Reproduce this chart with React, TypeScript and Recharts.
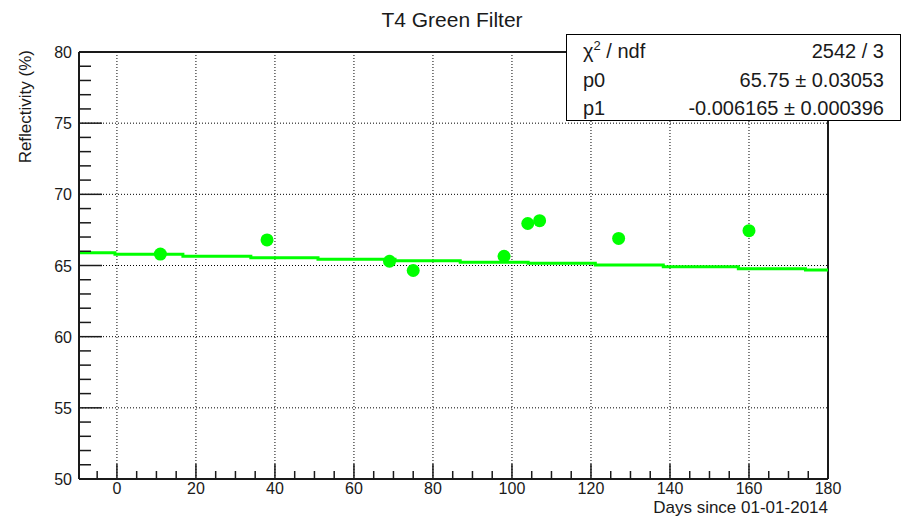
import { ComposedChart, XAxis, YAxis, Line, Scatter, ReferenceLine } from 'recharts';

// measured reflectivity of the T4 green filter
const days = [11, 38, 69, 75, 98, 104, 107, 127, 160];
const reflectivity = [65.8, 66.8, 65.3, 64.65, 65.65, 67.95, 68.15, 66.9, 67.45];

// linear fit as drawn (stepped segments)
const fitDays = [-9.6, -0.5, 16.7, 33.9, 50.9, 70.4, 86.9, 104.1, 121.1, 138.3, 157.3, 174.3, 180];
const fitValues = [65.9, 65.79, 65.65, 65.55, 65.44, 65.34, 65.23, 65.16, 65.04, 64.92, 64.78, 64.68, 64.68];

const xMajor = [0, 20, 40, 60, 80, 100, 120, 140, 160, 180];
const yMajor = [50, 55, 60, 65, 70, 75, 80];
const xTicks = Array.from({ length: 38 }, (_, i) => -5 + i * 5);
const yTicks = Array.from({ length: 31 }, (_, i) => 50 + i);

const statNames = ['p0', 'p1'];
const statValues = ['2542 / 3', '65.75 \u00b1 0.03053', '-0.006165 \u00b1 0.000396'];

const points = days.map((d, i) => ({ x: d, y: reflectivity[i] }));
const fit = fitDays.map((d, i) => ({ x: d, y: fitValues[i] }));

const W = 907;
const H = 518;
const LEFT = 79;
const RIGHT = 828;
const TOP = 52;
const BOTTOM = 479;
const FONT = '"Liberation Sans", Arial, Helvetica, sans-serif';
const INK = '#1a1a1a';

function XTick(props: any) {
  const { x, payload } = props;
  const major = payload.value % 20 === 0;
  return (
    <g>
      <line x1={x} x2={x} y1={BOTTOM} y2={BOTTOM - (major ? 15 : 8)} stroke={INK} strokeWidth={1.5} />
      {major && (
        <text x={x} y={494} textAnchor="middle" fontSize={16} fill={INK} fontFamily={FONT}>
          {payload.value}
        </text>
      )}
    </g>
  );
}

function YTick(props: any) {
  const { y, payload } = props;
  const major = payload.value % 5 === 0;
  return (
    <g>
      <line x1={LEFT} x2={LEFT + (major ? 23 : 12)} y1={y} y2={y} stroke={INK} strokeWidth={1.5} />
      {major && (
        <text x={72} y={y + 6} textAnchor="end" fontSize={16} fill={INK} fontFamily={FONT}>
          {payload.value}
        </text>
      )}
    </g>
  );
}

const dot = (p: any) => <circle cx={p.cx} cy={p.cy} r={6.5} fill="#00ff00" />;

export default function App() {
  return (
    <div style={{ position: 'absolute', left: 0, top: 0, width: W, height: H, background: '#fff' }}>
      <ComposedChart width={W} height={H} margin={{ top: TOP, right: W - RIGHT, bottom: 0, left: 0 }}>
        <XAxis
          type="number"
          dataKey="x"
          domain={[-9.6, 180]}
          ticks={xTicks}
          interval={0}
          height={H - BOTTOM}
          tickLine={false}
          axisLine={{ stroke: INK, strokeWidth: 2 }}
          tick={<XTick />}
          allowDataOverflow
        />
        <YAxis
          type="number"
          domain={[50, 80]}
          ticks={yTicks}
          interval={0}
          width={LEFT}
          tickLine={false}
          axisLine={{ stroke: INK, strokeWidth: 2 }}
          tick={<YTick />}
          allowDataOverflow
        />
        {xMajor.slice(0, -1).map((v) => (
          <ReferenceLine key={'gx' + v} x={v} stroke="#000" strokeDasharray="1 2" />
        ))}
        {yMajor.slice(1, -1).map((v) => (
          <ReferenceLine key={'gy' + v} y={v} stroke="#000" strokeDasharray="1 2" />
        ))}
        <ReferenceLine y={80} stroke={INK} strokeWidth={2} ifOverflow="visible" />
        <ReferenceLine x={180} stroke={INK} strokeWidth={2} ifOverflow="visible" />
        <Line
          data={fit}
          dataKey="y"
          type="stepAfter"
          stroke="#00ff00"
          strokeWidth={3}
          dot={false}
          activeDot={false}
          isAnimationActive={false}
        />
        <Scatter data={points} dataKey="y" shape={dot} isAnimationActive={false} />
      </ComposedChart>

      <svg
        width={W}
        height={H}
        style={{ position: 'absolute', left: 0, top: 0, pointerEvents: 'none' }}
        fontFamily={FONT}
        fill={INK}
      >
        <text x={452} y={27} textAnchor="middle" fontSize={21}>
          T4 Green Filter
        </text>
        <text x={RIGHT} y={513} textAnchor="end" fontSize={17}>
          Days since 01-01-2014
        </text>
        <text transform="translate(31,50) rotate(-90)" textAnchor="end" fontSize={17}>
          Reflectivity (%)
        </text>

        <rect x={566.5} y={34.5} width={334} height={86} fill="#fff" stroke="#000" strokeWidth={1} />
        <text x={583} y={58} fontSize={20}>
          <tspan>{'\u03c7'}</tspan>
          <tspan dy={-8} fontSize={13}>2</tspan>
          <tspan dy={8}> / ndf</tspan>
        </text>
        {statNames.map((n, i) => (
          <text key={n} x={583} y={86.5 + i * 28.5} fontSize={20}>
            {n}
          </text>
        ))}
        {statValues.map((v, i) => (
          <text key={v} x={884} y={58 + i * 28.5} fontSize={20} textAnchor="end">
            {v}
          </text>
        ))}
      </svg>
    </div>
  );
}
